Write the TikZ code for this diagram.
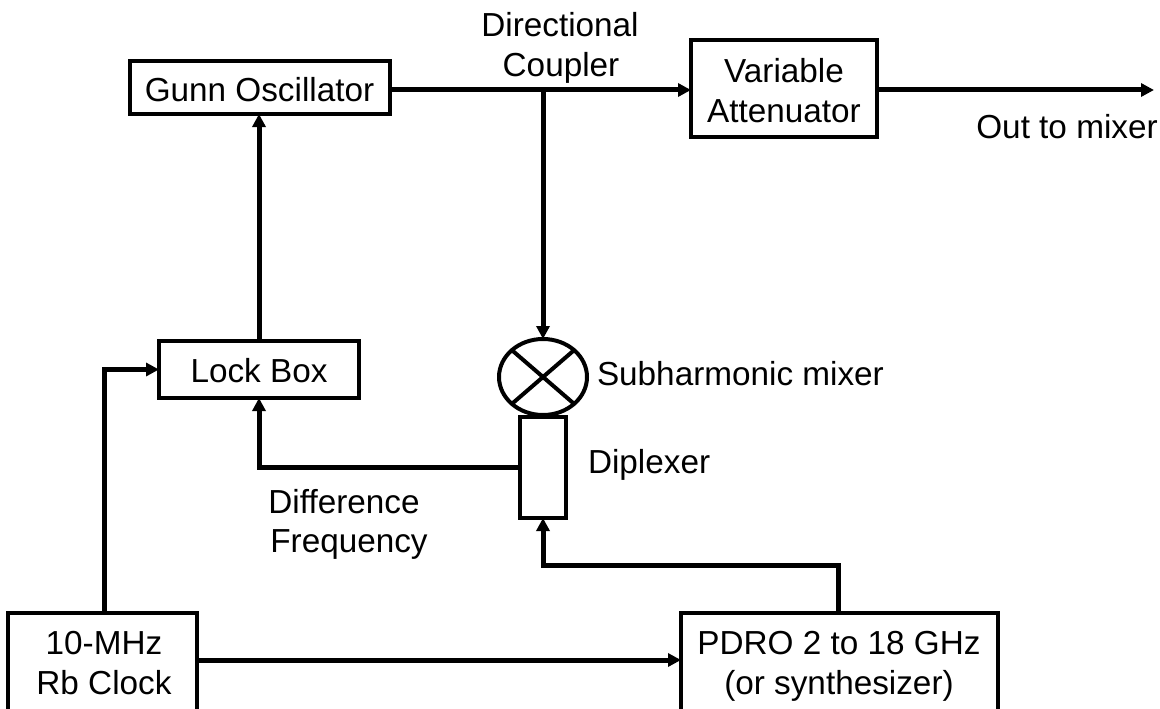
\documentclass[tikz,border=0pt]{standalone}
\usepackage{fontspec}
\setmainfont{Liberation Sans}
\usetikzlibrary{arrows.meta,shapes.geometric}
\tikzset{
  box/.style={draw=black,line width=4pt,fill=white,inner sep=0pt,outer sep=0pt,minimum width=#1},
  lbl/.style={inner sep=0pt,outer sep=0pt,anchor=base,align=center,font=\fontsize{33.3}{40}\selectfont},
  wire/.style={line width=5pt,-{Triangle[length=13pt,width=13pt]},shorten >=0pt}
}
\begin{document}
\begin{tikzpicture}[x=1pt,y=-1pt]
\useasboundingbox (0,0) rectangle (1160,709);
\clip (0,0) rectangle (1160,709);
% boxes
\node[box=260pt,minimum height=53pt] (gunn) at (260,87.5) {};
\node[box=186pt,minimum height=97pt] (var) at (784,88.5) {};
\node[box=200pt,minimum height=57pt] (lock) at (259,369.5) {};
\node[box=189pt,minimum height=106pt] (clock) at (102.5,666) {};
\node[box=317pt,minimum height=106pt] (pdro) at (839.5,666) {};
\node[box=46pt,minimum height=101pt] (dip) at (543,467.5) {};
\node[draw=black,line width=4pt,fill=white,ellipse,inner sep=0pt,outer sep=0pt,minimum width=88pt,minimum height=76pt] (mix) at (543,377) {};
\draw[line width=4pt] (mix.north west) -- (mix.south east);
\draw[line width=4pt] (mix.north east) -- (mix.south west);
% connector helpers
\coordinate (coupler) at (543,90);
\coordinate (out) at (1154,90);
\coordinate (rbup) at (104,613);
\coordinate (rbcorner) at (104,369.5);
\coordinate (dipw) at (520,467);
\coordinate (dipcorner) at (259,467);
\coordinate (pdup) at (838,613);
\coordinate (pdc1) at (838,565);
\coordinate (pdc2) at (543,565);
\coordinate (clocke) at (197,660);
\coordinate (pdrow) at (681,660);
\coordinate (gunne) at (390,90);
\coordinate (varw) at (691,90);
\coordinate (vare) at (877,90);
% connectors
\draw[wire] (gunne) -- (varw);
\draw[wire] (vare) -- (out);
\draw[wire] (coupler) -- (mix.north);
\draw[wire] (lock.north) -- (gunn.south -| lock.north);
\draw[wire] (rbup) -- (rbcorner) -- (lock.west);
\draw[wire] (dipw) -- (dipcorner) -- (lock.south);
\draw[wire] (pdup) -- (pdc1) -- (pdc2) -- (dip.south);
\draw[wire] (clocke) -- (pdrow);
% labels
\node[lbl] (t1) at (259.5,102) {Gunn Oscillator};
\node[lbl] (t2) at (784,83) {Variable};
\node[lbl] (t3) at (784,122) {Attenuator};
\node[lbl] (t4) at (560,37) {Directional};
\node[lbl] (t5) at (561,77) {Coupler};
\node[lbl] (t6) at (1067,139) {Out to mixer};
\node[lbl] (t7) at (259,382) {Lock Box};
\node[lbl,anchor=base west] (t8) at (597,385) {Subharmonic mixer};
\node[lbl,anchor=base west] (t9) at (588,473) {Diplexer};
\node[lbl] (t10) at (344,513) {Difference};
\node[lbl] (t11) at (349,552) {Frequency};
\node[lbl] (t12) at (104,654) {10-MHz};
\node[lbl] (t13) at (104,694) {Rb Clock};
\node[lbl] (t14) at (839,654) {PDRO 2 to 18 GHz};
\node[lbl] (t15) at (839,694) {(or synthesizer)};
\end{tikzpicture}
\end{document}
